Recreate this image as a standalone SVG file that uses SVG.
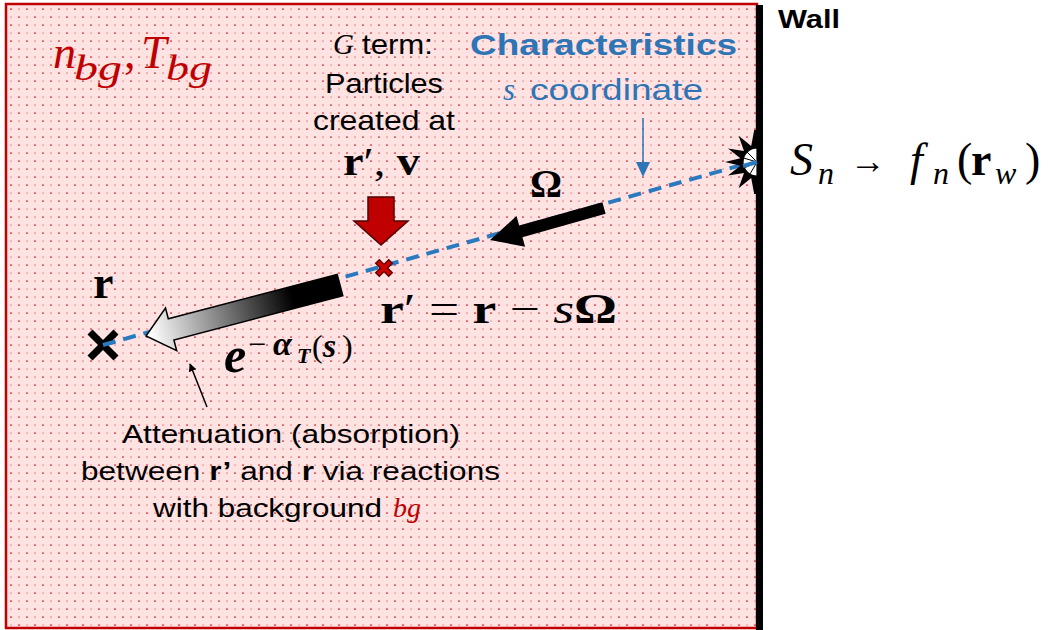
<svg xmlns="http://www.w3.org/2000/svg" width="1049" height="630" viewBox="0 0 1049 630">
<style>
.sans{font-family:"Liberation Sans",Arial,sans-serif;fill:#000}
.math{font-family:"Liberation Serif","DejaVu Serif",serif;fill:#000}
.red{fill:#c00000}
.blue{fill:#2e75b6}
.it{font-style:italic}
.b{font-weight:bold}
</style>
<defs>
<pattern id="dots" x="2" y="0" width="16" height="16" patternUnits="userSpaceOnUse">
<circle cx="1" cy="1" r="0.85" fill="#d00000"/>
<circle cx="9" cy="1" r="0.5" fill="#d00000"/>
<circle cx="1" cy="9" r="0.6" fill="#d00000"/>
<circle cx="9" cy="9" r="0.85" fill="#d00000"/>
</pattern>
<linearGradient id="fade" gradientUnits="userSpaceOnUse" x1="340" y1="285" x2="150" y2="335">
<stop offset="0" stop-color="#000"/>
<stop offset="0.25" stop-color="#000"/>
<stop offset="1" stop-color="#fff"/>
</linearGradient>
<marker id="bhead" viewBox="0 0 10 10" refX="9" refY="5" markerWidth="8" markerHeight="8" markerUnits="userSpaceOnUse" orient="auto">
<path d="M0,0 L10,5 L0,10 z" fill="#000"/>
</marker>
</defs>

<g id="background">
<rect x="6" y="4" width="751" height="624" fill="#ffe2e2"/>
<rect x="6" y="4" width="751" height="624" fill="url(#dots)"/>
<rect x="6" y="4" width="751" height="624" fill="none" stroke="#c00000" stroke-width="2.5"/>
</g>

<g id="wall">
<rect x="756" y="5" width="7" height="625" fill="#000"/>
<text class="sans b" x="778" y="28" font-size="25" textLength="62" lengthAdjust="spacingAndGlyphs">Wall</text>
</g>

<g id="connectors">
<line x1="103" y1="345" x2="756" y2="161" stroke="#2a7abf" stroke-width="4" stroke-dasharray="13,8"/>
<line x1="643" y1="118" x2="643" y2="164" stroke="#2e75b6" stroke-width="1.5"/>
<polygon points="636,162 650,162 643,177" fill="#2e75b6"/>
<line x1="207" y1="407" x2="190" y2="364" stroke="#000" stroke-width="1.5" marker-end="url(#bhead)"/>
</g>

<g id="source">
<polygon points="757,130 754.2,130.1 751.2,146 738.6,135.8 744,151.1 728,148.5 740.4,158.2 725,162 740.4,165.8 728,175.5 744,172.9 738.6,188.2 751.2,178 754.2,193.9 757,194" fill="#000"/>
<path d="M757,148 A14,14 0 0 0 757,176 z" fill="#fff" stroke="#000" stroke-width="1.2"/>
<g stroke="#000" stroke-width="1">
<line x1="757" y1="162" x2="747" y2="152"/>
<line x1="757" y1="162" x2="743.5" y2="158"/>
<line x1="757" y1="162" x2="744" y2="168"/>
<line x1="757" y1="162" x2="750" y2="174"/>
</g>
<line x1="743" y1="166" x2="757" y2="162" stroke="#2a7abf" stroke-width="4"/>
</g>

<g id="bg-label">
<text class="math it red" x="53" y="68" font-size="46">n</text>
<text class="math it red" x="74" y="80" font-size="36" textLength="48" lengthAdjust="spacingAndGlyphs">bg</text>
<text class="math red" x="124" y="68" font-size="46">,</text>
<text class="math it red" x="141" y="68" font-size="46">T</text>
<text class="math it red" x="166" y="80" font-size="36" textLength="46" lengthAdjust="spacingAndGlyphs">bg</text>
</g>

<g id="g-term">
<text class="math it" x="333" y="54" font-size="29">G</text>
<text class="sans" x="362" y="54" font-size="28" textLength="71" lengthAdjust="spacingAndGlyphs">term:</text>
<text class="sans" x="325" y="93" font-size="28" textLength="118" lengthAdjust="spacingAndGlyphs">Particles</text>
<text class="sans" x="313" y="130" font-size="28" textLength="142" lengthAdjust="spacingAndGlyphs">created at</text>
<text class="math" x="343" y="175" font-size="40" textLength="77" lengthAdjust="spacingAndGlyphs"><tspan class="b">r</tspan>′, <tspan class="b">v</tspan></text>
</g>

<g id="characteristics">
<text class="sans b blue" x="470" y="55" font-size="30" textLength="267" lengthAdjust="spacingAndGlyphs">Characteristics</text>
<text class="math it blue" x="503" y="100" font-size="31">s</text>
<text class="sans blue" x="530" y="100" font-size="29" textLength="173" lengthAdjust="spacingAndGlyphs">coordinate</text>
</g>

<g id="wall-bc">
<text class="math it" x="790" y="175" font-size="46">S</text>
<text class="math it" x="818" y="184" font-size="32">n</text>
<text class="math" x="850" y="173" font-size="36" font-family="'DejaVu Serif',serif">→</text>
<text class="math it" x="910" y="175" font-size="46">f</text>
<text class="math it" x="933" y="184" font-size="32">n</text>
<text class="math" x="957" y="175" font-size="46">(</text>
<text class="math b" x="971" y="175" font-size="46">r</text>
<text class="math it" x="995" y="184" font-size="32">w</text>
<text class="math" x="1025" y="175" font-size="46">)</text>
</g>

<g id="point-r">
<g stroke="#000" stroke-width="7" stroke-linecap="butt">
<line x1="90" y1="332" x2="116" y2="358"/>
<line x1="116" y1="332" x2="90" y2="358"/>
</g>
<line x1="103" y1="345" x2="115" y2="341.6" stroke="#2a7abf" stroke-width="4"/>
<text class="math b" x="93" y="298" font-size="46">r</text>
</g>

<g id="point-rprime">
<g stroke="#600000" stroke-width="6.5">
<line x1="377" y1="261" x2="391" y2="275"/>
<line x1="391" y1="261" x2="377" y2="275"/>
</g>
<g stroke="#d00000" stroke-width="3.5">
<line x1="378" y1="262" x2="390" y2="274"/>
<line x1="390" y1="262" x2="378" y2="274"/>
</g>
<polygon points="368,197 394,197 394,221 408,221 381,245 354,221 368,221" fill="#c00000" stroke="#500000" stroke-width="1.5"/>
<text class="math" x="380" y="323" font-size="42" textLength="237" lengthAdjust="spacingAndGlyphs"><tspan class="b">r</tspan>′ = <tspan class="b">r</tspan> − <tspan class="it">s</tspan><tspan class="b">Ω</tspan></text>
</g>

<g id="omega-arrow">
<polygon points="605.6,213.8 602.4,202.2 519.2,225.6 516.5,216 490,240 525.1,246.8 522.4,237.2" fill="#000"/>
<text class="math b" x="530" y="197" font-size="40">Ω</text>
</g>

<g id="attenuation-arrow">
<polygon points="342.8,295.6 337.2,274.4 168.3,318.8 165.5,308.1 146,336 176.7,350.7 173.9,340" fill="url(#fade)" stroke="#000" stroke-width="1.5"/>
<text class="math b it" x="224" y="372" font-size="50">e</text>
<text class="math" x="248" y="355" font-size="32">−</text>
<text class="math b it" x="273" y="355" font-size="34">α</text>
<text class="math b it" x="297" y="363" font-size="22">T</text>
<text class="math" x="312" y="357" font-size="32">(</text>
<text class="math b it" x="323" y="357" font-size="34">s</text>
<text class="math" x="342" y="357" font-size="32">)</text>
</g>

<g id="attenuation-text">
<text class="sans" x="122" y="443" font-size="25" textLength="338" lengthAdjust="spacingAndGlyphs">Attenuation (absorption)</text>
<text class="sans" x="81" y="480" font-size="25" textLength="419" lengthAdjust="spacingAndGlyphs">between <tspan class="b">r’</tspan> and <tspan class="b">r</tspan> via reactions</text>
<text class="sans" x="153" y="517" font-size="25" textLength="229" lengthAdjust="spacingAndGlyphs">with background</text>
<text class="math it red" x="393" y="517" font-size="28">bg</text>
</g>
</svg>
